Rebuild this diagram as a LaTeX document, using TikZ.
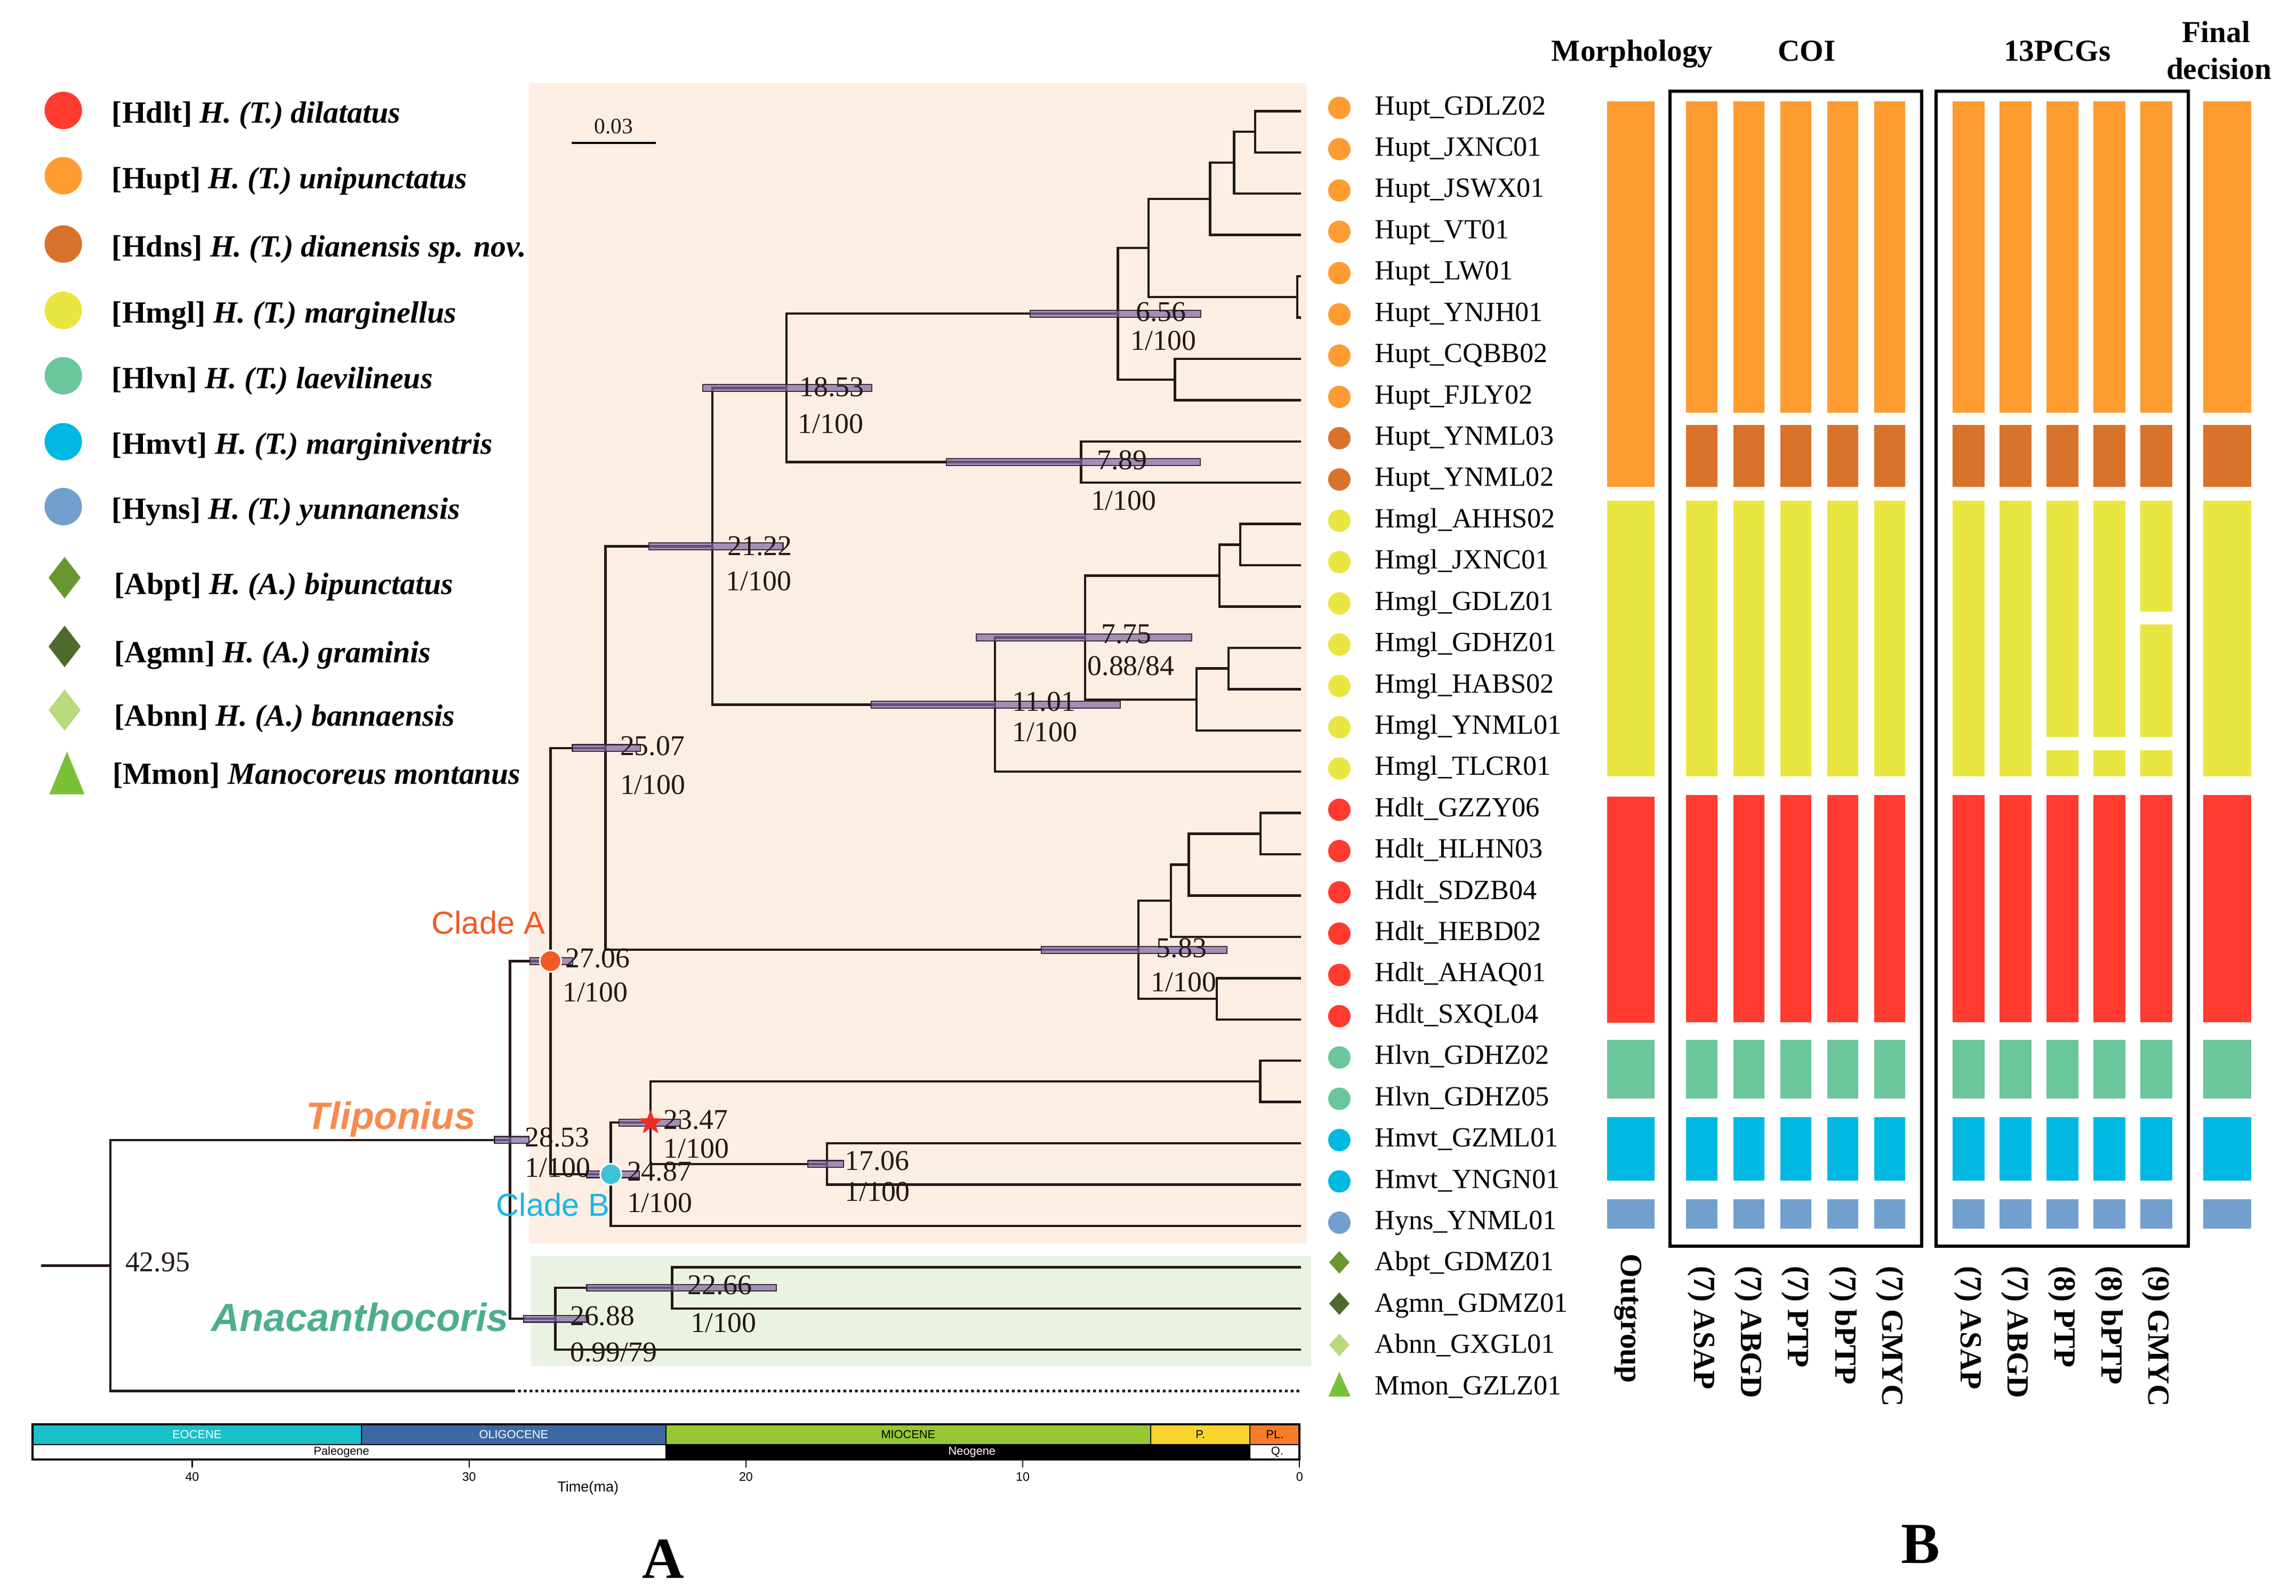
\documentclass[tikz,border=0pt]{standalone}
\usepackage{fontspec}
\setmainfont{Liberation Serif}
\newfontfamily\arialfam{Liberation Sans}
\usetikzlibrary{shapes.geometric}

\definecolor{inkline}{HTML}{231815}
\definecolor{pinkbg}{HTML}{FDEEE3}
\definecolor{greenbg}{HTML}{EAF3E2}
\definecolor{hpdfill}{HTML}{7F66A3}
\definecolor{hpdline}{HTML}{3A2E3E}
\definecolor{hdlt}{HTML}{FF3A2F}
\definecolor{hupt}{HTML}{FE9B31}
\definecolor{hdns}{HTML}{D9722B}
\definecolor{hmgl}{HTML}{EAE641}
\definecolor{hlvn}{HTML}{6BC69B}
\definecolor{hmvt}{HTML}{00B8E1}
\definecolor{hyns}{HTML}{72A0CE}
\definecolor{abpt}{HTML}{67982F}
\definecolor{agmn}{HTML}{4F6A2D}
\definecolor{abnn}{HTML}{B8DA7C}
\definecolor{mmon}{HTML}{7AC13A}
\definecolor{cladeA}{HTML}{F05A28}
\definecolor{cladeBdot}{HTML}{3EC3D6}
\definecolor{cladeBtxt}{HTML}{1CB6E4}
\definecolor{starred}{HTML}{EE2D24}
\definecolor{tlip}{HTML}{F78A4E}
\definecolor{anac}{HTML}{4DAE8B}
\definecolor{eocene}{HTML}{19BFC9}
\definecolor{oligocene}{HTML}{3E68A4}
\definecolor{miocene}{HTML}{97C733}
\definecolor{pliocene}{HTML}{FAD42C}
\definecolor{pleisto}{HTML}{F77B2A}

\newcommand{\setpt}[1]{\fontsize{#1pt}{#1pt}\selectfont}

\tikzset{
  branch/.style={draw=inkline, line width=1.25pt},
  dotline/.style={line width=1.4pt, dash pattern=on 1.5pt off 1.6pt},
  hpd/.style={fill=hpdfill, fill opacity=.7, draw=hpdline, line width=.6pt},
  age/.style={anchor=west, inner sep=0, text=inkline, font=\setpt{15.3}},
  taxon/.style={anchor=base west, inner sep=0, font=\setpt{14.8}},
  legend/.style={anchor=base west, inner sep=0, font=\setpt{16.4}\bfseries},
  head/.style={anchor=base, inner sep=0, font=\setpt{16.3}\bfseries},
  method/.style={anchor=west, rotate=-90, inner sep=0, font=\setpt{16.4}\bfseries},
  boxline/.style={draw=black, line width=1.8pt},
  epoch/.style={inner sep=0, font={\arialfam\setpt{6.2}}}
}

\begin{document}
\begin{tikzpicture}[x=0.0276cm, y=-0.0276cm]
\useasboundingbox (0,0) rectangle (1560,1084);

% shaded clades
\fill[pinkbg] (359.5,56.5) rectangle (888,845);
\fill[greenbg] (361,853) rectangle (891,928);

% legend
\foreach \y/\col in {75/hdlt,119.4/hupt,165.8/hdns,210.9/hmgl,255.3/hlvn,300.1/hmvt,344.2/hyns}
  \fill[\col] (43,\y) circle (12.7);
\foreach \y/\col in {392.5/abpt,439.2/agmn,482.4/abnn}
  \fill[\col] (43.9,\y) ++(0,-14.1) -- ++(10.9,14.1) -- ++(-10.9,14.1) -- ++(-10.9,-14.1) -- cycle;
\fill[mmon] (33.5,539.7) -- (57.5,539.7) -- (45.5,510.6) -- cycle;
\foreach \n/\x/\y/\cd/\spc in {
  1/75.8/83.5/Hdlt/{H. (T.) dilatatus},
  2/75.8/127.9/Hupt/{H. (T.) unipunctatus},
  3/75.8/174.3/Hdns/{H. (T.) dianensis sp. nov.},
  4/75.8/219.4/Hmgl/{H. (T.) marginellus},
  5/75.8/263.8/Hlvn/{H. (T.) laevilineus},
  6/75.8/308.6/Hmvt/{H. (T.) marginiventris},
  7/75.8/352.7/Hyns/{H. (T.) yunnanensis},
  8/77.4/403.9/Abpt/{H. (A.) bipunctatus},
  9/77.4/450.2/Agmn/{H. (A.) graminis},
  10/77.4/493.4/Abnn/{H. (A.) bannaensis},
  11/76.2/532.8/Mmon/{Manocoreus montanus}}
  \node[legend] (key\n) at (\x,\y) {[\cd] \textit{\spc}};

% tips
\foreach \i in {0,...,31}
  \coordinate (l\i) at (884,{75.5+28.05*\i});

% internal nodes
\coordinate (stub) at (28,859.8);
\coordinate (root) at (75,859.8);
\coordinate (og) at (348,945.05);
\coordinate (n2853) at (346.5,774.5);
\coordinate (nA) at (374,653);
\coordinate (n2507) at (411.4,508.2);
\coordinate (n2122) at (484,371.1);
\coordinate (n1853) at (534.4,263.5);
\coordinate (n656) at (759.5,213.1);
\coordinate (hA) at (780.3,168.4);
\coordinate (hB) at (822.2,135.1);
\coordinate (hC) at (838.5,110.56);
\coordinate (hD) at (852.7,89.53);
\coordinate (hE) at (881.5,201.73);
\coordinate (hF) at (798.3,257.83);
\coordinate (n789) at (734.5,313.93);
\coordinate (n1101) at (676,478.7);
\coordinate (n775) at (737.2,433.1);
\coordinate (mA) at (828.5,391.06);
\coordinate (mB) at (842.7,370.03);
\coordinate (mC) at (812.9,475.2);
\coordinate (mD) at (834.7,454.18);
\coordinate (n583) at (773.4,645.3);
\coordinate (dA) at (795.5,611.95);
\coordinate (dB) at (807.7,587.4);
\coordinate (dC) at (856.5,566.38);
\coordinate (dE) at (826.7,678.58);
\coordinate (nB) at (415,797.8);
\coordinate (n2347) at (442,762.7);
\coordinate (lA) at (856.3,734.68);
\coordinate (n1706) at (562,790.78);
\coordinate (n2688) at (377.3,895.95);
\coordinate (n2266) at (456.7,874.93);

% branches
\draw[branch] (stub) -- (root);
\foreach \p/\ch in {root/n2853, root/og, n2853/nA, n2853/n2688, nA/n2507, nA/nB,
    n2507/n2122, n2507/n583, n2122/n1853, n2122/n1101, n1853/n656, n1853/n789,
    n656/hA, n656/hF, hA/hB, hA/hE, hB/hC, hB/l3, hC/hD, hC/l2, hD/l0, hD/l1,
    hE/l4, hE/l5, hF/l6, hF/l7, n789/l8, n789/l9,
    n1101/n775, n1101/l16, n775/mA, n775/mC, mA/mB, mA/l12, mB/l10, mB/l11,
    mC/mD, mC/l15, mD/l13, mD/l14,
    n583/dA, n583/dE, dA/dB, dA/l20, dB/dC, dB/l19, dC/l17, dC/l18, dE/l21, dE/l22,
    nB/n2347, nB/l27, n2347/lA, n2347/n1706, lA/l23, lA/l24, n1706/l25, n1706/l26,
    n2688/n2266, n2688/l30, n2266/l28, n2266/l29}
  \draw[branch] (\p) |- (\ch);
\draw[branch, dotline] (og) -- (l31);

% 95% HPD bars
\foreach \xa/\xb/\n in {336/359.5/n2853, 360/389/nA, 388.9/435/n2507, 441/532/n2122,
    477.5/592.4/n1853, 700/816/n656, 643/815.6/n789, 592/761.2/n1101,
    663.4/809.8/n775, 707.5/833.7/n583, 420.6/462.3/n2347, 398.7/434.5/nB,
    548.9/573.2/n1706, 355.9/399.8/n2688, 398.7/527.5/n2266}
  \draw[hpd] (\xa,0 |- \n) ++(0,-2.3) rectangle ++({\xb-\xa},4.6);

% clade marks
\filldraw[fill=cladeA, draw=white, line width=.8pt] (nA) circle (7.3);
\filldraw[fill=cladeBdot, draw=white, line width=.8pt] (nB) circle (7.2);
\node[star, star points=5, star point ratio=2.4, fill=starred, inner sep=0, minimum size=14pt] (starB) at (n2347) {};

% node ages and support
\foreach \n/\x/\y/\lab in {2853/356.5/772.7/28.53, 2706/384/651/27.06, 2507/421.1/507/25.07,
    2122/494/371/21.22, 1853/543/263/18.53, 656/771.5/212/6.56, 789/745/312.6/7.89,
    1101/687.4/476.6/11.01, 775/748/430.9/7.75, 583/785.5/644.1/5.83,
    2347/450.7/760.7/23.47, 2487/425.8/796/24.87, 1706/573.7/788.7/17.06,
    4295/84.9/857.5/42.95, 2688/387.1/894.1/26.88, 2266/466.9/873.1/22.66}
  \node[age] (age\n) at (\x,\y) {\lab};
\foreach \n/\x/\y/\lab in {2853/356.5/793.3/{1/100}, 2706/382/674/{1/100}, 2507/421.1/533.3/{1/100},
    2122/493/394.7/{1/100}, 1853/542/288/{1/100}, 656/768/231.5/{1/100}, 789/741/340/{1/100},
    1101/687.4/497.4/{1/100}, 775/738.7/452.4/{0.88/84}, 583/781.7/667.2/{1/100},
    2347/450.7/780.2/{1/100}, 2487/425.8/817.4/{1/100}, 1706/573.7/809.8/{1/100},
    2688/387.1/918.9/{0.99/79}, 2266/469.2/898.7/{1/100}}
  \node[age] (sup\n) at (\x,\y) {\lab};

% clade names
\node[anchor=base west, inner sep=0, text=cladeA, font=\arialfam\setpt{17}] (lblA) at (293,634.4) {Clade A};
\node[anchor=base west, inner sep=0, text=cladeBtxt, font=\arialfam\setpt{17}] (lblB) at (336.9,826.1) {Clade B};
\node[anchor=base west, inner sep=0, text=tlip, font=\arialfam\setpt{20.3}\bfseries\itshape] (lblT) at (208,767) {Tliponius};
\node[anchor=base west, inner sep=0, text=anac, font=\arialfam\setpt{21}\bfseries\itshape] (lblN) at (143.3,904.5) {Anacanthocoris};

% scale bar
\draw[line width=1.1pt] (388.2,97) -- (445.7,97);
\node[age, anchor=center, font=\setpt{11.8}] (sbar) at (417,85.7) {0.03};

% time axis
\foreach \n/\xa/\xb/\col/\lab/\tc in {1/22/245.6/eocene/EOCENE/white, 2/245.6/452.4/oligocene/OLIGOCENE/white,
    3/452.4/781.8/miocene/MIOCENE/black, 4/781.8/849.3/pliocene/P./black, 5/849.3/883/pleisto/PL./black}{
  \draw[fill=\col, line width=.6pt] (\xa,967.5) rectangle (\xb,981.5);
  \node[epoch, text=\tc] (ep\n) at ({(\xa+\xb)/2},974.5) {\lab};
}
\draw[fill=white, line width=.6pt] (22,981.5) rectangle (452.4,991.5);
\draw[fill=black, line width=.6pt] (452.4,981.5) rectangle (849.3,991.5);
\draw[fill=white, line width=.6pt] (849.3,981.5) rectangle (883,991.5);
\node[epoch] (perP) at (232,986.5) {Paleogene};
\node[epoch, text=white] (perN) at (660.4,986.5) {Neogene};
\node[epoch] (perQ) at (867.8,986.5) {Q.};
\draw[line width=1.1pt] (22,967.5) rectangle (883,991.5);
\foreach \tm in {40,30,20,10,0}{
  \draw[line width=.6pt] ({883-18.81*\tm},991.5) -- ++(0,5.5);
  \node[epoch, font={\arialfam\setpt{6.6}}] (tk\tm) at ({883-18.81*\tm},1003.5) {\tm};
}
\node[epoch, font={\arialfam\setpt{7.7}}] (tlabel) at (399.5,1011) {Time(ma)};

% tip symbols and names
\foreach \i/\col in {0/hupt,1/hupt,2/hupt,3/hupt,4/hupt,5/hupt,6/hupt,7/hupt,8/hdns,9/hdns,
    10/hmgl,11/hmgl,12/hmgl,13/hmgl,14/hmgl,15/hmgl,16/hmgl,
    17/hdlt,18/hdlt,19/hdlt,20/hdlt,21/hdlt,22/hdlt,23/hlvn,24/hlvn,25/hmvt,26/hmvt,27/hyns}{
  \pgfmathsetmacro\yy{75.5+28.05*\i}
  \fill[\col] (910,{\yy-2.2}) circle (7.6);
}
\foreach \i/\col in {28/abpt,29/agmn,30/abnn}{
  \pgfmathsetmacro\yy{75.5+28.05*\i-3.3}
  \fill[\col] (910,\yy) ++(0,-7.7) -- ++(6.9,7.7) -- ++(-6.9,7.7) -- ++(-6.9,-7.7) -- cycle;
}
\fill[mmon] (902.6,948.8) -- (917.6,948.8) -- (910,932) -- cycle;
\foreach \i/\nm in {0/Hupt\_GDLZ02, 1/Hupt\_JXNC01, 2/Hupt\_JSWX01, 3/Hupt\_VT01, 4/Hupt\_LW01,
    5/Hupt\_YNJH01, 6/Hupt\_CQBB02, 7/Hupt\_FJLY02, 8/Hupt\_YNML03, 9/Hupt\_YNML02,
    10/Hmgl\_AHHS02, 11/Hmgl\_JXNC01, 12/Hmgl\_GDLZ01, 13/Hmgl\_GDHZ01, 14/Hmgl\_HABS02,
    15/Hmgl\_YNML01, 16/Hmgl\_TLCR01, 17/Hdlt\_GZZY06, 18/Hdlt\_HLHN03, 19/Hdlt\_SDZB04,
    20/Hdlt\_HEBD02, 21/Hdlt\_AHAQ01, 22/Hdlt\_SXQL04, 23/Hlvn\_GDHZ02, 24/Hlvn\_GDHZ05,
    25/Hmvt\_GZML01, 26/Hmvt\_YNGN01, 27/Hyns\_YNML01, 28/Abpt\_GDMZ01, 29/Agmn\_GDMZ01,
    30/Abnn\_GXGL01, 31/Mmon\_GZLZ01}
  \node[taxon] (t\i) at (934,{75.5+28.05*\i+2.4}) {\nm};

% panel B: delimitation bars
\fill[hupt] (1092,68.9) rectangle (1124,330.9);
\fill[hmgl] (1092,340.1) rectangle (1124,527.5);
\fill[hdlt] (1092,541.3) rectangle (1124,695);
\fill[hlvn] (1092,706.5) rectangle (1124,746.3);
\fill[hmvt] (1092,759) rectangle (1124,802);
\fill[hyns] (1092,814.7) rectangle (1124,834.8);
\foreach \x/\w in {1145.7/21.3,1177.6/21.3,1209.5/21.3,1241.4/21.3,1273.3/21.3,
    1326.6/21.7,1358.5/21.7,1390.4/21.7,1422.3/21.7,1454.2/21.7,1496.8/32.6}
  \foreach \col/\ya/\yb in {hupt/68.9/280.3,hdns/288.8/330.9,hdlt/540.2/694.5,
      hlvn/706.5/746.3,hmvt/759/802,hyns/814.7/834.8}
    \fill[\col] (\x,\ya) rectangle ({\x+\w},\yb);
\foreach \x/\w in {1145.7/21.3,1177.6/21.3,1209.5/21.3,1241.4/21.3,1273.3/21.3,
    1326.6/21.7,1358.5/21.7,1496.8/32.6}
  \fill[hmgl] (\x,340.1) rectangle ({\x+\w},527.5);
\foreach \x in {1390.4,1422.3}{
  \fill[hmgl] (\x,340.1) rectangle ({\x+21.7},500.5);
  \fill[hmgl] (\x,509.7) rectangle ({\x+21.7},527.5);
}
\fill[hmgl] (1454.2,340.1) rectangle (1475.9,415.4);
\fill[hmgl] (1454.2,424.2) rectangle (1475.9,500.5);
\fill[hmgl] (1454.2,509.7) rectangle (1475.9,527.5);
\draw[boxline] (1134.6,61.9) rectangle (1305.6,846.6);
\draw[boxline] (1315.4,61.9) rectangle (1486.9,846.6);

% headers
\node[head] (hmorph) at (1109,41.6) {Morphology};
\node[head] (hcoi) at (1227.5,41.6) {COI};
\node[head] (hpcg) at (1397.8,41.6) {13PCGs};
\node[head] (hfin1) at (1505.8,28.9) {Final};
\node[head] (hfin2) at (1507.7,53.8) {decision};

% method labels
\node[method] (mout) at (1106,851.7) {Outgroup};
\foreach \n/\x/\lab in {1/1156.3/{(7) ASAP},2/1188.2/{(7) ABGD},3/1220.1/{(7) PTP},4/1252/{(7) bPTP},
    5/1283.9/{(7) GMYC},6/1337.4/{(7) ASAP},7/1369.3/{(7) ABGD},8/1401.2/{(8) PTP},
    9/1433.1/{(8) bPTP},10/1465/{(9) GMYC}}
  \node[method] (m\n) at (\x,859.8) {\lab};

% panel letters
\node[inner sep=0, font=\setpt{31}\bfseries] (panelA) at (450.7,1059) {A};
\node[inner sep=0, font=\setpt{31}\bfseries] (panelB) at (1304.7,1049) {B};
\end{tikzpicture}
\end{document}
